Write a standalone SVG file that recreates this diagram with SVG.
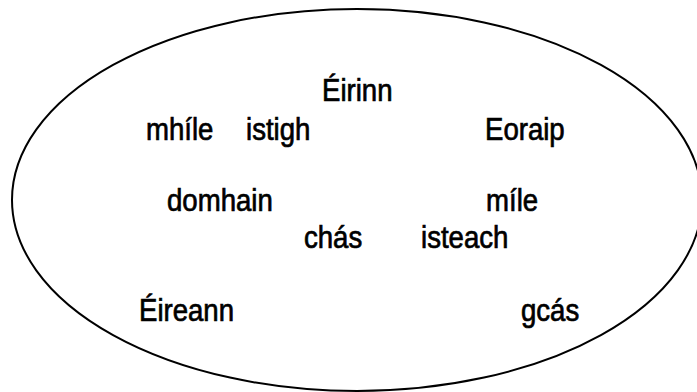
<svg xmlns="http://www.w3.org/2000/svg" width="697" height="392" viewBox="0 0 697 392">
<style>
.w{font-family:"Liberation Sans",Arial,sans-serif;font-size:31px;fill:#000;stroke:#000;stroke-width:0.7}
</style>
<rect width="697" height="392" fill="#fff"/>
<g id="ellipse"><ellipse cx="357" cy="200" rx="345" ry="191" fill="none" stroke="#000" stroke-width="2"/></g>
<g id="words">
<text class="w" transform="translate(322,101) scale(0.89,1)">Éirinn</text>
<text class="w" transform="translate(146,139.5) scale(0.89,1)">mhíle</text>
<text class="w" transform="translate(246,139.5) scale(0.89,1)">istigh</text>
<text class="w" transform="translate(485,139.5) scale(0.89,1)">Eoraip</text>
<text class="w" transform="translate(167,211) scale(0.89,1)">domhain</text>
<text class="w" transform="translate(486,211) scale(0.89,1)">míle</text>
<text class="w" transform="translate(304,248) scale(0.89,1)">chás</text>
<text class="w" transform="translate(421,248) scale(0.89,1)">isteach</text>
<text class="w" transform="translate(139,321) scale(0.89,1)">Éireann</text>
<text class="w" transform="translate(521,321) scale(0.89,1)">gcás</text>
</g>
</svg>
